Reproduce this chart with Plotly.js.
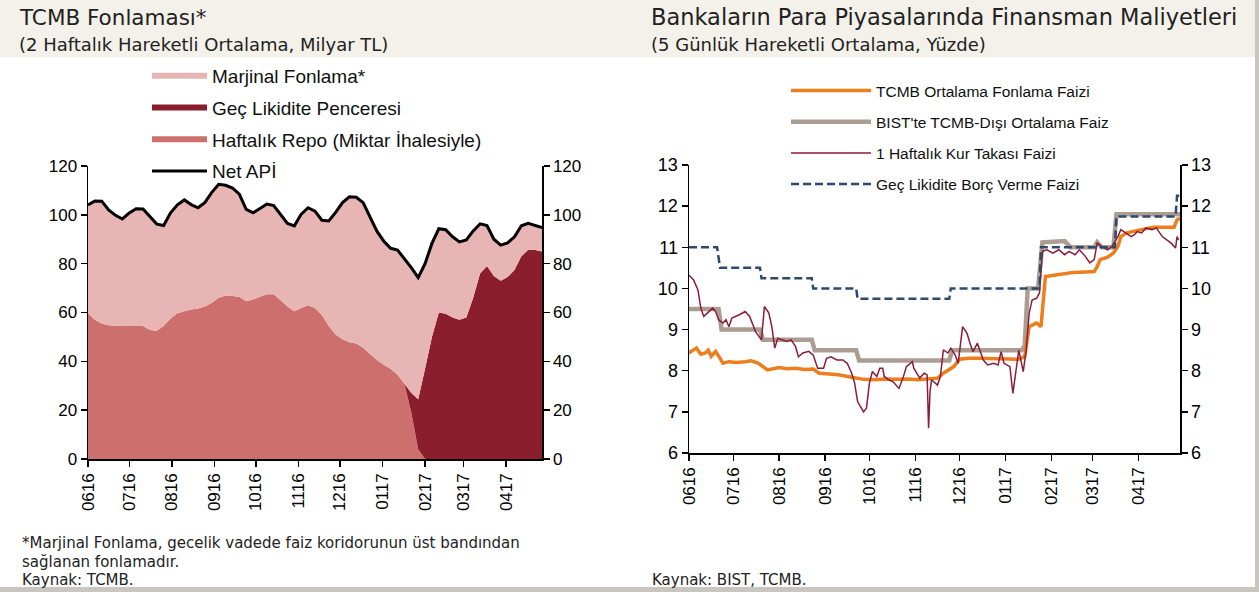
<!DOCTYPE html>
<html><head><meta charset="utf-8">
<script src="https://cdn.plot.ly/plotly-3.0.1.min.js"></script>
<style>html,body{margin:0;padding:0;background:#fff}#chart{width:1259px;height:592px}</style>
</head><body><div id="chart"></div>
<script>
// ---------- Left panel: TCMB Fonlaması (2 haftalık hareketli ortalama, milyar TL) ----------
const fundDates = ['2016-06-01','2016-06-06','2016-06-11','2016-06-16','2016-06-21','2016-06-26','2016-07-01','2016-07-06','2016-07-11','2016-07-16','2016-07-21','2016-07-26','2016-07-31','2016-08-05','2016-08-10','2016-08-15','2016-08-20','2016-08-25','2016-08-30','2016-09-04','2016-09-09','2016-09-14','2016-09-19','2016-09-24','2016-09-29','2016-10-04','2016-10-09','2016-10-14','2016-10-19','2016-10-24','2016-10-29','2016-11-03','2016-11-08','2016-11-13','2016-11-18','2016-11-23','2016-11-28','2016-12-03','2016-12-08','2016-12-13','2016-12-18','2016-12-23','2016-12-28','2017-01-02','2017-01-07','2017-01-12','2017-01-17','2017-01-22','2017-01-27','2017-02-01','2017-02-06','2017-02-11','2017-02-16','2017-02-21','2017-02-26','2017-03-03','2017-03-08','2017-03-13','2017-03-18','2017-03-23','2017-03-28','2017-04-02','2017-04-07','2017-04-12','2017-04-17','2017-04-22','2017-04-27'];
const haftalikRepo = [59.7,57,55.5,54.8,54.6,54.5,54.5,54.5,54.5,52.8,52.5,54.5,57.5,59.7,60.5,61.2,61.6,62.5,64,66,67,66.8,66.5,64.6,65.3,66.5,67.5,67.5,65,62.5,60.5,61.8,63,61.8,59,54.5,51,49,47.8,47.3,45.6,43,40.5,38.6,37,34.5,30.8,19,4,0,0,0,0,0,0,0,0,0,0,0,0,0,0,0,0,0,0];
const gecLikidite = [0,0,0,0,0,0,0,0,0,0,0,0,0,0,0,0,0,0,0,0,0,0,0,0,0,0,0,0,0,0,0,0,0,0,0,0,0,0,0,0,0,0,0,0,0,0,0,8,20.5,37,50,60,59.5,58,57,58,66,76,79,75,73,74.5,77.4,83,85.7,85.6,85];
const marjinalFonlama = [44.3,48.7,50.1,47.2,45.2,43.8,46.3,48.0,47.9,46.5,43.7,41.1,43.3,44.4,45.6,43.0,41.3,42.6,45.2,46.5,45.1,44.2,42.0,37.6,35.5,36.1,36.9,36.3,35.2,34.0,35.0,38.5,39.9,39.7,38.8,43.0,50.0,56.0,59.6,59.9,59.4,55.9,52.8,50.6,49.3,51.1,51.3,51.4,49.8,43.0,38.3,34.3,34.4,33.0,31.9,31.7,27.4,20.3,16.6,15.0,14.6,14.0,13.6,12.5,10.8,9.9,9.8];
const netAPI = [104.0,105.7,105.6,102.0,99.8,98.3,100.8,102.5,102.4,99.3,96.2,95.6,100.8,104.1,106.1,104.2,102.9,105.1,109.2,112.5,112.1,111.0,108.5,102.2,100.8,102.6,104.4,103.8,100.2,96.5,95.5,100.3,102.9,101.5,97.8,97.5,101.0,105.0,107.4,107.2,105.0,98.9,93.3,89.2,86.3,85.6,82.1,78.4,74.3,80.0,88.3,94.3,93.9,91.0,88.9,89.7,93.4,96.3,95.6,90.0,87.6,88.5,91.0,95.5,96.5,95.5,94.8];

// ---------- Right panel: Finansman maliyetleri (5 günlük hareketli ortalama, yüzde) ----------
const tcmbDates = ['2016-06-01','2016-06-02','2016-06-06','2016-06-09','2016-06-12','2016-06-14','2016-06-16','2016-06-19','2016-06-22','2016-06-24','2016-06-28','2016-07-03','2016-07-09','2016-07-13','2016-07-18','2016-07-24','2016-08-01','2016-08-06','2016-08-12','2016-08-18','2016-08-24','2016-08-28','2016-09-04','2016-09-10','2016-09-19','2016-09-27','2016-10-05','2016-10-12','2016-10-19','2016-10-27','2016-11-03','2016-11-10','2016-11-16','2016-11-20','2016-11-27','2016-12-01','2016-12-07','2016-12-14','2016-12-21','2016-12-28','2017-01-04','2017-01-10','2017-01-14','2017-01-17','2017-01-22','2017-01-25','2017-01-26','2017-01-28','2017-02-05','2017-02-16','2017-02-24','2017-03-02','2017-03-04','2017-03-06','2017-03-11','2017-03-15','2017-03-18','2017-03-20','2017-03-24','2017-04-02','2017-04-11','2017-04-25','2017-04-27','2017-04-29'];
const tcmbFaiz = [8.42,8.46,8.55,8.40,8.43,8.50,8.35,8.47,8.30,8.18,8.22,8.20,8.22,8.24,8.18,8.02,8.08,8.05,8.06,8.03,8.04,7.94,7.92,7.90,7.84,7.79,7.78,7.80,7.79,7.80,7.78,7.80,7.82,7.94,8.10,8.28,8.30,8.30,8.29,8.30,8.28,8.28,8.34,9.07,9.16,9.07,9.48,10.29,10.33,10.39,10.40,10.41,10.53,10.70,10.76,10.86,11.02,11.26,11.35,11.43,11.49,11.49,11.67,11.70];

const bistDates = ['2016-06-01','2016-06-21','2016-06-23','2016-07-19','2016-07-21','2016-08-23','2016-08-25','2016-09-22','2016-09-24','2016-11-24','2016-11-26','2017-01-12','2017-01-14','2017-01-16','2017-01-23','2017-01-26','2017-02-10','2017-02-14','2017-03-02','2017-03-04','2017-03-07','2017-03-15','2017-03-17','2017-04-29'];
const bistFaiz = [9.5,9.5,9.0,9.0,8.75,8.75,8.5,8.5,8.25,8.25,8.5,8.5,8.6,10.0,10.0,11.12,11.15,11.0,11.0,11.12,11.0,11.0,11.8,11.8];

const kurDates = ['2016-06-01','2016-06-02','2016-06-04','2016-06-07','2016-06-09','2016-06-11','2016-06-15','2016-06-17','2016-06-19','2016-06-21','2016-06-24','2016-06-26','2016-06-28','2016-06-30','2016-07-05','2016-07-09','2016-07-12','2016-07-16','2016-07-20','2016-07-22','2016-07-25','2016-07-27','2016-07-29','2016-07-31','2016-08-06','2016-08-09','2016-08-12','2016-08-14','2016-08-17','2016-08-21','2016-08-24','2016-08-27','2016-08-31','2016-09-02','2016-09-05','2016-09-09','2016-09-13','2016-09-16','2016-09-19','2016-09-21','2016-09-23','2016-09-27','2016-09-29','2016-10-01','2016-10-03','2016-10-06','2016-10-08','2016-10-10','2016-10-11','2016-10-14','2016-10-17','2016-10-21','2016-10-24','2016-10-26','2016-10-30','2016-10-31','2016-11-02','2016-11-04','2016-11-07','2016-11-09','2016-11-10','2016-11-11','2016-11-12','2016-11-16','2016-11-18','2016-11-20','2016-11-23','2016-11-25','2016-11-28','2016-11-30','2016-12-03','2016-12-06','2016-12-08','2016-12-10','2016-12-13','2016-12-17','2016-12-20','2016-12-24','2016-12-27','2016-12-29','2016-12-31','2017-01-04','2017-01-06','2017-01-08','2017-01-10','2017-01-13','2017-01-15','2017-01-17','2017-01-19','2017-01-22','2017-01-24','2017-01-26','2017-01-29','2017-02-02','2017-02-06','2017-02-10','2017-02-13','2017-02-17','2017-02-20','2017-02-24','2017-02-27','2017-03-02','2017-03-04','2017-03-07','2017-03-11','2017-03-14','2017-03-18','2017-03-20','2017-03-23','2017-03-27','2017-03-29','2017-03-31','2017-04-03','2017-04-06','2017-04-10','2017-04-13','2017-04-17','2017-04-20','2017-04-23','2017-04-26','2017-04-27','2017-04-28'];
const kurTakasi = [10.32,10.29,10.21,9.97,9.52,9.32,9.44,9.52,9.44,9.24,9.16,9.24,9.07,9.28,9.36,9.44,9.32,8.95,8.75,9.56,9.40,9.07,8.55,8.79,8.71,8.75,8.59,8.34,8.43,8.47,8.38,8.06,8.06,8.30,8.34,8.26,8.26,8.18,7.94,7.70,7.25,7.00,7.09,7.70,7.98,7.86,8.06,8.06,7.86,7.78,7.73,7.57,7.86,8.10,8.22,8.06,7.94,7.82,7.94,7.90,6.60,7.50,7.78,7.65,7.86,8.51,8.43,8.55,8.38,8.18,9.07,8.91,8.67,8.46,8.67,8.26,8.14,8.18,8.14,8.46,8.18,8.10,7.45,8.02,8.50,7.98,8.50,9.40,9.72,9.76,9.89,10.90,10.94,10.86,10.94,10.82,10.90,10.82,10.94,10.78,10.62,10.70,11.10,11.02,10.94,11.02,11.26,11.43,11.35,11.26,11.30,11.38,11.35,11.47,11.43,11.47,11.26,11.18,11.10,10.98,11.26,11.18];

const gecBorcDates = ['2016-06-01','2016-06-20','2016-06-22','2016-07-19','2016-07-20','2016-08-23','2016-08-24','2016-09-22','2016-09-23','2016-11-24','2016-11-25','2017-01-24','2017-01-25','2017-03-16','2017-03-17','2017-04-26','2017-04-27','2017-04-29'];
const gecBorcFaiz = [11,11,10.5,10.5,10.25,10.25,10.0,10.0,9.75,9.75,10.0,10.0,11.0,11.0,11.75,11.75,12.25,12.25];

// ---------- Layout helpers (pixel -> paper) ----------
const W = 1259, H = 592;
const px = v => v / W;
const py = v => 1 - v / H;
const AX = 'Liberation Sans, Arial, sans-serif';
const TF = 'DejaVu Sans, sans-serif';

const baseAxis = {
  showline: true, linecolor: '#000', linewidth: 1.5,
  ticks: 'outside', ticklen: 6, tickwidth: 1.5, tickcolor: '#000',
  showgrid: false, zeroline: false, fixedrange: true,
  tickfont: {family: AX, size: 17, color: '#000'}
};
const dateAxis = Object.assign({}, baseAxis, {
  type: 'date', tick0: '2016-06-01', dtick: 'M1', tickformat: '%m%y', tickangle: -90,
  tickfont: {family: AX, size: 17, color: '#000'}
});
const rateAxis = Object.assign({}, baseAxis, {tickfont: {family: AX, size: 18, color: '#000'}});

const traces = [
  {x: fundDates, y: haftalikRepo, name: 'Haftalık Repo (Miktar İhalesiyle)', stackgroup: 'fon', mode: 'none',
   fillcolor: '#cd6f6d', legendgroup: 'g3', legendrank: 3, legend: 'legend', xaxis: 'x', yaxis: 'y'},
  {x: fundDates, y: gecLikidite, name: 'Geç Likidite Penceresi', stackgroup: 'fon', mode: 'none',
   fillcolor: '#8b1e2c', legendgroup: 'g2', legendrank: 2, legend: 'legend', xaxis: 'x', yaxis: 'y'},
  {x: fundDates, y: marjinalFonlama, name: 'Marjinal Fonlama*', stackgroup: 'fon', mode: 'none',
   fillcolor: '#e8b5b5', legendgroup: 'g1', legendrank: 1, legend: 'legend', xaxis: 'x', yaxis: 'y'},
  // Net APİ drawn on the right-hand (same-scale) axis so that the right axis is rendered
  {x: fundDates, y: netAPI, name: 'Net APİ', mode: 'lines', line: {color: '#000', width: 3},
   legendgroup: 'g4', legendrank: 4, legend: 'legend', xaxis: 'x', yaxis: 'y3'},

  {x: bistDates, y: bistFaiz, name: "BIST'te TCMB-Dışı Ortalama Faiz", mode: 'lines', line: {color: '#ab9d91', width: 4.5},
   legendgroup: 'h2', legendrank: 2, legend: 'legend2', xaxis: 'x2', yaxis: 'y2'},
  {x: tcmbDates, y: tcmbFaiz, name: 'TCMB Ortalama Fonlama Faizi', mode: 'lines', line: {color: '#ee7d1b', width: 3.5},
   legendgroup: 'h1', legendrank: 1, legend: 'legend2', xaxis: 'x2', yaxis: 'y2'},
  {x: kurDates, y: kurTakasi, name: '1 Haftalık Kur Takası Faizi', mode: 'lines', line: {color: '#8b1d3b', width: 1.5},
   legendgroup: 'h3', legendrank: 3, legend: 'legend2', xaxis: 'x2', yaxis: 'y2'},
  {x: gecBorcDates, y: gecBorcFaiz, name: 'Geç Likidite Borç Verme Faizi', mode: 'lines', line: {color: '#2d4a6e', width: 2.5, dash: '8px,4px'},
   legendgroup: 'h4', legendrank: 4, legend: 'legend2', xaxis: 'x2', yaxis: 'y4'}
];

const ann = (text, x, y, size) => ({
  text: text, x: px(x), y: py(y), xref: 'paper', yref: 'paper', xanchor: 'left', yanchor: 'middle',
  showarrow: false, font: {family: TF, size: size, color: '#222'}
});

const layout = {
  width: W, height: H, margin: {l: 0, r: 0, t: 0, b: 0},
  paper_bgcolor: '#fff', plot_bgcolor: 'rgba(0,0,0,0)',
  showlegend: true,
  xaxis: Object.assign({}, dateAxis, {domain: [px(88), px(542)], anchor: 'y', range: ['2016-06-01', '2017-04-27']}),
  yaxis: Object.assign({}, baseAxis, {domain: [py(459), py(166)], anchor: 'x', range: [0, 120], dtick: 20}),
  yaxis3: Object.assign({}, baseAxis, {overlaying: 'y', side: 'right', anchor: 'x', range: [0, 120], dtick: 20}),
  xaxis2: Object.assign({}, dateAxis, {domain: [px(689), px(1180)], anchor: 'y2', range: ['2016-06-01', '2017-04-29']}),
  yaxis2: Object.assign({}, rateAxis, {domain: [py(453), py(165)], anchor: 'x2', range: [6, 13], dtick: 1}),
  yaxis4: Object.assign({}, rateAxis, {overlaying: 'y2', side: 'right', anchor: 'x2', range: [6, 13], dtick: 1}),
  legend: {x: px(147), y: py(57), xanchor: 'left', yanchor: 'top', bgcolor: 'rgba(0,0,0,0)',
    font: {family: AX, size: 19, color: '#111'}, itemwidth: 55, traceorder: 'grouped', tracegroupgap: 4},
  legend2: {x: px(786), y: py(74), xanchor: 'left', yanchor: 'top', bgcolor: 'rgba(0,0,0,0)',
    font: {family: AX, size: 15.5, color: '#111'}, itemwidth: 80, traceorder: 'grouped', tracegroupgap: 8},
  shapes: [
    {type: 'rect', xref: 'paper', yref: 'paper', x0: 0, x1: 1, y0: py(57), y1: 1, fillcolor: '#f4f1ea', line: {width: 0}, layer: 'below'},
    {type: 'rect', xref: 'paper', yref: 'paper', x0: 0, x1: 1, y0: 0, y1: py(587), fillcolor: '#c9c6c0', line: {width: 0}, layer: 'below'},
    {type: 'rect', xref: 'paper', yref: 'paper', x0: px(1255), x1: 1, y0: 0, y1: 1, fillcolor: '#c9c6c0', line: {width: 0}, layer: 'below'}
  ],
  annotations: [
    ann('TCMB Fonlaması*', 17, 17, 21.5),
    ann('(2 Haftalık Hareketli Ortalama, Milyar TL)', 17, 45, 18),
    ann('Bankaların Para Piyasalarında Finansman Maliyetleri', 649, 17, 22.5),
    ann('(5 Günlük Hareketli Ortalama, Yüzde)', 649, 45, 18),
    ann('*Marjinal Fonlama, gecelik vadede faiz koridorunun üst bandından', 20, 543, 15),
    ann('sağlanan fonlamadır.', 20, 562, 15),
    ann('Kaynak: TCMB.', 20, 580, 15),
    ann('Kaynak: BIST, TCMB.', 650, 580, 15)
  ]
};

Plotly.newPlot('chart', traces, layout, {displayModeBar: false, staticPlot: true});
</script>
</body></html>
